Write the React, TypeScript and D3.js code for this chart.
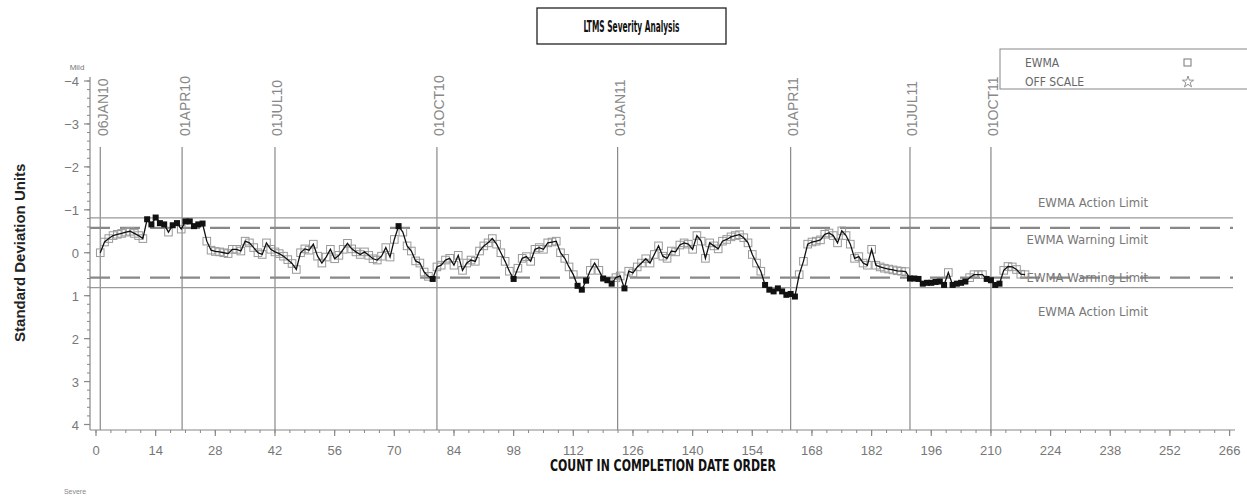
import React from "react";
import * as d3 from "d3";

const W = 1247;
const H = 497;

// EWMA values by completion count (count = index + 1)
const ewma: number[] = [
  0.0, -0.25, -0.33, -0.4, -0.43, -0.45, -0.48, -0.5, -0.45, -0.4,
  -0.33, -0.78, -0.66, -0.82, -0.69, -0.66, -0.48, -0.64, -0.69, -0.55,
  -0.73, -0.73, -0.62, -0.66, -0.68, -0.27, -0.06, -0.03, -0.02, 0.0,
  0.02, -0.08, -0.08, -0.04, -0.27, -0.23, -0.12, 0.0, 0.04, -0.23,
  -0.08, -0.02, 0.02, 0.08, 0.16, 0.25, 0.39, 0.0, -0.09, -0.06,
  -0.2, 0.08, 0.24, 0.1, -0.08, 0.14, 0.06, -0.08, -0.22, -0.09,
  -0.02, 0.04, -0.02, 0.06, 0.14, 0.17, 0.08, -0.12, 0.1, -0.31,
  -0.62, -0.48, -0.16, -0.04, 0.19, 0.24, 0.45, 0.55, 0.61, 0.33,
  0.29, 0.17, 0.13, 0.29, 0.06, 0.41, 0.24, 0.17, 0.2, -0.04,
  -0.16, -0.23, -0.33, -0.2, 0.0, 0.2, 0.43, 0.61, 0.36, 0.13,
  0.09, 0.2, -0.08, -0.12, -0.08, -0.23, -0.25, -0.27, 0.0, 0.13,
  0.33, 0.51, 0.77, 0.86, 0.65, 0.41, 0.24, 0.41, 0.6, 0.64,
  0.72, 0.58, 0.54, 0.83, 0.43, 0.47, 0.33, 0.24, 0.14, 0.24,
  0.04, -0.16, 0.08, 0.13, -0.04, -0.02, -0.18, -0.23, -0.2, -0.08,
  -0.4, -0.27, 0.13, -0.23, -0.16, -0.09, -0.27, -0.31, -0.37, -0.4,
  -0.42, -0.35, -0.23, 0.04, 0.24, 0.43, 0.75, 0.86, 0.9, 0.83,
  0.9, 0.98, 0.96, 1.02, 0.51, 0.2, -0.2, -0.25, -0.27, -0.3,
  -0.43, -0.46, -0.4, -0.23, -0.51, -0.4, -0.2, 0.13, 0.09, 0.24,
  0.29, -0.08, 0.29, 0.33, 0.36, 0.38, 0.4, 0.42, 0.43, 0.44,
  0.6, 0.6, 0.61, 0.72, 0.7, 0.7, 0.68, 0.67, 0.75, 0.46,
  0.75, 0.72, 0.7, 0.67, 0.58, 0.51, 0.51, 0.51, 0.61, 0.64,
  0.75, 0.72, 0.41, 0.32, 0.33, 0.39, 0.5, 0.51,
];

const dateLabels: string[] = ["06JAN10", "01APR10", "01JUL10", "01OCT10", "01JAN11", "01APR11", "01JUL11", "01OCT11"];
const dateCounts: number[] = [1, 20.2, 42, 80, 122.4, 163, 191, 210];

const xTickValues: number[] = d3.range(0, 267, 14);
const xMinorValues: number[] = d3.range(0, 266.1, 3.5);
const yTickValues: number[] = [-4, -3, -2, -1, 0, 1, 2, 3, 4];
const yMinorValues: number[] = d3.range(-4, 4.01, 0.2);

const actionLimit = 0.81;
const warningLimit = 0.58;

const FONT = "'Liberation Sans', Arial, sans-serif";
const NARROW = "'Liberation Sans Narrow', 'DejaVu Sans Condensed', 'Liberation Sans', sans-serif";

export default function App() {
  const x = d3.scaleLinear().domain([0, 266]).range([96, 1229.6]);
  const y = d3.scaleLinear().domain([-4, 4]).range([81, 424.5]);
  const axisLeft = 90;
  const axisBottom = 430;
  const limitRight = 1233;
  const refTop = 147;

  const pts = ewma.map((v, i) => ({ c: i + 1, v }));
  const line = d3
    .line<{ c: number; v: number }>()
    .x((d) => x(d.c))
    .y((d) => y(d.v));

  const limitLines = [
    { v: -actionLimit, dash: false },
    { v: -warningLimit, dash: true },
    { v: warningLimit, dash: true },
    { v: actionLimit, dash: false },
  ];

  const limitLabels = [
    { t: "EWMA Action Limit", yy: 207 },
    { t: "EWMA Warning Limit", yy: 244 },
    { t: "EWMA Warning Limit", yy: 282 },
    { t: "EWMA Action Limit", yy: 316 },
  ];

  const starPath = d3.symbol().type(d3.symbolStar).size(40)();

  return (
    <svg
      width={W}
      height={H}
      style={{ position: "absolute", left: 0, top: 0, background: "#fff" }}
    >
      {/* Title box */}
      <rect x={537} y={8} width={189} height={36} fill="none" stroke="#222" strokeWidth={1.3} />
      <text
        x={631.5}
        y={32}
        textAnchor="middle"
        fontFamily={NARROW}
        fontWeight="bold"
        fontSize={16}
        textLength={96}
        lengthAdjust="spacingAndGlyphs"
        fill="#111"
      >
        LTMS Severity Analysis
      </text>

      {/* Legend */}
      <rect x={1000} y={49} width={260} height={40} fill="none" stroke="#888" strokeWidth={1} />
      <text x={1025} y={67} fontFamily={NARROW} fontSize={12} fill="#666">EWMA</text>
      <text x={1025} y={86} fontFamily={NARROW} fontSize={12} fill="#666">OFF SCALE</text>
      <rect x={1184} y={59} width={7} height={7} fill="none" stroke="#777" strokeWidth={1} />
      <path d={starPath || ""} transform="translate(1188,82)" fill="none" stroke="#777" strokeWidth={0.8} />

      {/* Mild / Severe */}
      <text x={77} y={70} textAnchor="middle" fontFamily={FONT} fontSize={8} fill="#777">Mild</text>
      <text x={75} y={494} textAnchor="middle" fontFamily={FONT} fontSize={7} fill="#888">Severe</text>

      {/* Y axis title */}
      <text
        transform={`translate(25,${y(0)}) rotate(-90)`}
        textAnchor="middle"
        fontFamily={FONT}
        fontWeight="bold"
        fontSize={15}
        fill="#222"
      >
        Standard Deviation Units
      </text>

      {/* X axis title */}
      <text
        x={663}
        y={471}
        textAnchor="middle"
        fontFamily={NARROW}
        fontWeight="bold"
        fontSize={15}
        textLength={226}
        lengthAdjust="spacingAndGlyphs"
        fill="#111"
      >
        COUNT IN COMPLETION DATE ORDER
      </text>

      {/* Reference date lines */}
      {dateCounts.map((c, i) => (
        <g key={"ref" + i}>
          <line x1={x(c)} x2={x(c)} y1={refTop} y2={axisBottom} stroke="#888" strokeWidth={1.2} />
          <text
            transform={`translate(${x(c) + 7.5},${refTop - 11}) rotate(-90)`}
            fontFamily={FONT}
            fontSize={14}
            fill="#888"
          >
            {dateLabels[i]}
          </text>
        </g>
      ))}

      {/* Limit lines */}
      {limitLines.map((l, i) => (
        <line
          key={"lim" + i}
          x1={axisLeft}
          x2={limitRight}
          y1={y(l.v)}
          y2={y(l.v)}
          stroke={l.dash ? "#888" : "#999"}
          strokeWidth={l.dash ? 2.4 : 1.3}
          strokeDasharray={l.dash ? "20 10" : undefined}
        />
      ))}
      {limitLabels.map((l, i) => (
        <text key={"ll" + i} x={1148} y={l.yy} textAnchor="end" fontFamily={NARROW} fontSize={13} fill="#777">
          {l.t}
        </text>
      ))}

      {/* Axes */}
      <line x1={axisLeft} x2={axisLeft} y1={77} y2={axisBottom} stroke="#888" strokeWidth={1.2} />
      <line x1={axisLeft} x2={1235} y1={axisBottom} y2={axisBottom} stroke="#888" strokeWidth={1.2} />
      {yMinorValues.map((v, i) => (
        <line key={"ym" + i} x1={axisLeft - 3} x2={axisLeft} y1={y(v)} y2={y(v)} stroke="#888" strokeWidth={1} />
      ))}
      {yTickValues.map((v) => (
        <g key={"yt" + v}>
          <line x1={axisLeft - 6} x2={axisLeft} y1={y(v)} y2={y(v)} stroke="#888" strokeWidth={1.2} />
          <text x={axisLeft - 11} y={y(v) + 5} textAnchor="end" fontFamily={FONT} fontSize={13} fill="#777">
            {v < 0 ? "\u2212" + Math.abs(v) : String(v)}
          </text>
        </g>
      ))}
      {xMinorValues.map((v, i) => (
        <line key={"xm" + i} x1={x(v)} x2={x(v)} y1={axisBottom} y2={axisBottom + 3} stroke="#888" strokeWidth={1} />
      ))}
      {xTickValues.map((v) => (
        <g key={"xt" + v}>
          <line x1={x(v)} x2={x(v)} y1={axisBottom} y2={axisBottom + 6} stroke="#888" strokeWidth={1.2} />
          <text x={x(v)} y={455} textAnchor="middle" fontFamily={FONT} fontSize={13} fill="#777">
            {v}
          </text>
        </g>
      ))}

      {/* EWMA series */}
      {pts.map((p) =>
        Math.abs(p.v) > warningLimit ? null : (
          <rect
            key={"o" + p.c}
            x={x(p.c) - 3.8}
            y={y(p.v) - 3.8}
            width={7.6}
            height={7.6}
            fill="none"
            stroke="#999"
            strokeWidth={1}
          />
        )
      )}
      <path d={line(pts) || ""} fill="none" stroke="#111" strokeWidth={1.3} />
      {pts.map((p) =>
        Math.abs(p.v) > warningLimit ? (
          <rect key={"f" + p.c} x={x(p.c) - 3} y={y(p.v) - 3} width={6} height={6} fill="#111" />
        ) : null
      )}
    </svg>
  );
}
